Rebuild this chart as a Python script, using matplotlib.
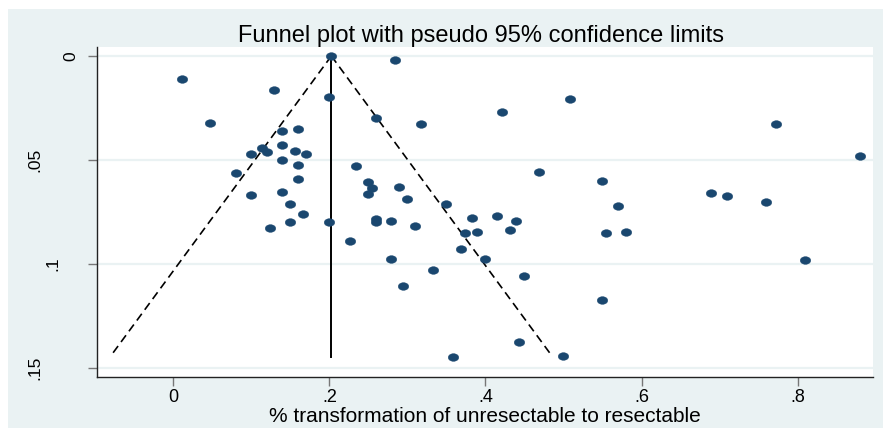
import numpy as np
import matplotlib
matplotlib.use("Agg")
import matplotlib.pyplot as plt
from matplotlib.path import Path
from matplotlib.patches import Rectangle
from matplotlib.transforms import Affine2D, blended_transform_factory

plt.rcParams['font.family'] = ['Liberation Sans', 'DejaVu Sans']
plt.rcParams['lines.scale_dashes'] = False

# ---- data ----
effect = [0.2022, 0.2846, 0.0112, 0.1291, 0.2000, 0.0470, 0.2599, 0.3171, 0.4210, 0.5077,
          0.7723, 0.8795, 0.1398, 0.1600, 0.1141, 0.1206, 0.0996, 0.1398, 0.1553, 0.1697,
          0.1398, 0.1600, 0.0804, 0.1600, 0.0996, 0.1398, 0.1492, 0.1667, 0.1492, 0.1244,
          0.2000, 0.2338, 0.2492, 0.2547, 0.2492, 0.2890, 0.2992, 0.3496, 0.4692, 0.2599,
          0.2599, 0.2791, 0.3099, 0.3833, 0.4146, 0.4390, 0.4317, 0.3744, 0.3897, 0.2269,
          0.3692, 0.3992, 0.2791, 0.3326, 0.4492, 0.2941, 0.5492, 0.6893, 0.7099, 0.7595,
          0.5697, 0.5543, 0.5795, 0.8094, 0.5492, 0.4428, 0.3590, 0.4992]
std_err = [0.0000, 0.0019, 0.0112, 0.0163, 0.0197, 0.0324, 0.0297, 0.0328, 0.0271, 0.0208,
           0.0325, 0.0482, 0.0362, 0.0353, 0.0441, 0.0460, 0.0471, 0.0430, 0.0455, 0.0471,
           0.0500, 0.0523, 0.0564, 0.0593, 0.0670, 0.0654, 0.0713, 0.0760, 0.0797, 0.0825,
           0.0798, 0.0529, 0.0606, 0.0635, 0.0665, 0.0628, 0.0689, 0.0710, 0.0559, 0.0785,
           0.0798, 0.0792, 0.0817, 0.0779, 0.0769, 0.0795, 0.0838, 0.0853, 0.0848, 0.0891,
           0.0928, 0.0977, 0.0977, 0.1027, 0.1059, 0.1104, 0.0603, 0.0660, 0.0675, 0.0700,
           0.0723, 0.0849, 0.0846, 0.0979, 0.1171, 0.1375, 0.1446, 0.1442]
pooled_estimate = 0.2025
se_max = 0.1445
z_95 = 1.96

x_ticks = [0, 0.2, 0.4, 0.6, 0.8]
x_tick_labels = ['0', '.2', '.4', '.6', '.8']
y_ticks = [0, 0.05, 0.1, 0.15]
y_tick_labels = ['0', '.05', '.1', '.15']

title = 'Funnel plot with pseudo 95% confidence limits'
x_label = '% transformation of unresectable to resectable'

# ---- figure ----
W, H = 883, 428
fig = plt.figure(figsize=(W / 100, H / 100), dpi=100, facecolor='white')
bg = '#eaf2f3'
fig.patches.append(Rectangle((8 / W, 0), (W - 8) / W, (H - 9) / H,
                             transform=fig.transFigure, facecolor=bg,
                             edgecolor='none', zorder=-10))

left, right, top, bottom = 96.7, 873.3, 46.7, 376.7
ax = fig.add_axes([left / W, (H - bottom) / H, (right - left) / W, (bottom - top) / H])
ax.set_zorder(1)
ax.set_facecolor('white')

ax.set_xlim(-0.0982, 0.897)
ax.set_ylim(0.1542, -0.00447)

# gridlines
for yt in y_ticks:
    ax.axhline(yt, color=bg, lw=1.6, zorder=1)

# funnel
se_line = np.array([0.0, se_max])
ax.plot(pooled_estimate - z_95 * se_line, se_line, color='black', lw=1.2,
        ls=(0, (6, 3.6)), zorder=2)
ax.plot(pooled_estimate + z_95 * se_line, se_line, color='black', lw=1.2,
        ls=(0, (6, 3.6)), zorder=2)
ax.plot([pooled_estimate, pooled_estimate], se_line, color='black', lw=1.4, zorder=2)

# elliptical marker (source image is horizontally stretched)
ell = Path.unit_circle().transformed(Affine2D().scale(1.0, 0.73))
ax.plot(effect, std_err, ls='none', marker=ell, markersize=7.6,
        color='#1a476f', markeredgecolor='#1a476f', markeredgewidth=0.3, zorder=3)

# spines
for s in ['top', 'right']:
    ax.spines[s].set_visible(False)
for s in ['left', 'bottom']:
    ax.spines[s].set_color('#222222')
    ax.spines[s].set_linewidth(1.0)

ax.set_xticks(x_ticks)
ax.set_xticklabels(x_tick_labels, fontsize=13)
ax.set_yticks(y_ticks)
ax.set_yticklabels([])
ax.tick_params(axis='both', direction='out', length=6.5, width=1.0, color='#777777')
ax.tick_params(axis='x', pad=2.5)

# rotated y tick labels (positioned as in the source)
y_label_centers = {'0': 71, '.05': 35, '.1': 52.5, '.15': 34.5}
trans = blended_transform_factory(fig.transFigure, ax.transData)
for yt, lab in zip(y_ticks, y_tick_labels):
    ax.text(y_label_centers[lab] / W, yt, lab, transform=trans, rotation=90,
            ha='center', va='center', fontsize=12.5, color='black', clip_on=False)

ax.set_xlabel(x_label, fontsize=15, labelpad=0.8)
fig.text(481 / W, (H - 41.7) / H, title, ha='center', va='baseline', fontsize=17)

fig.savefig('out.png', dpi=100, facecolor='white')
